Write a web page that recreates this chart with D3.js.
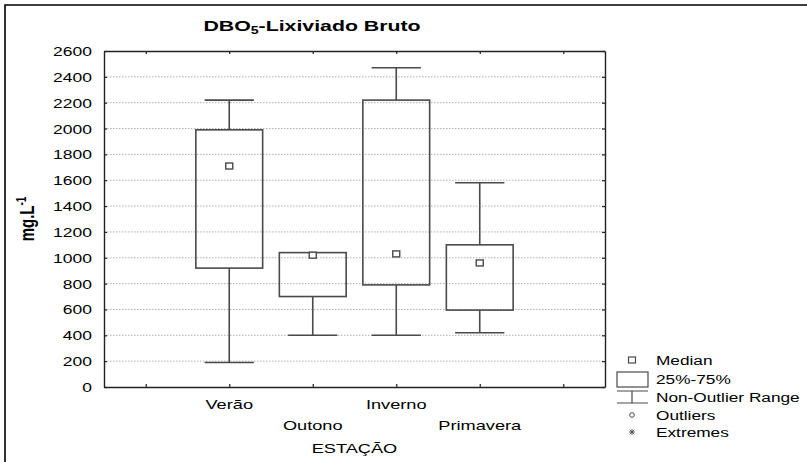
<!DOCTYPE html>
<html>
<head>
<meta charset="utf-8">
<script src="https://cdn.jsdelivr.net/npm/d3@7"></script>
<style>
  body { margin: 0; background: #fff; }
  text { font-family: "Liberation Sans", Arial, sans-serif; fill: #000; }
</style>
</head>
<body>
<svg id="chart"></svg>
<script>
// values
var categories = ["Verão", "Outono", "Inverno", "Primavera"];
var whiskerLow = [190, 400, 400, 420];
var q1 = [920, 700, 790, 595];
var median = [1710, 1020, 1030, 960];
var q3 = [1990, 1040, 2220, 1100];
var whiskerHigh = [2220, 1040, 2470, 1580];
var yTicks = [0, 200, 400, 600, 800, 1000, 1200, 1400, 1600, 1800, 2000, 2200, 2400, 2600];
var legendItems = ["Median", "25%-75%", "Non-Outlier Range", "Outliers", "Extremes"];

var W = 807, H = 462;
var plot = { left: 104, right: 605, top: 51, bottom: 387 };
var sx = 1.4; // the original output is stretched sideways
var lineCol = "#4a4a4a";

var svg = d3.select("#chart").attr("width", W).attr("height", H);

// frame of the cropped picture
svg.append("path")
  .attr("d", `M5,${H} L5,5 L${W},5`)
  .attr("fill", "none").attr("stroke", "#000").attr("stroke-width", 1.6);

// scales: empty slot on each side, like the original
var slots = ["_l"].concat(categories, ["_r"]);
var x = d3.scalePoint().domain(slots).range([plot.left, plot.right]).padding(0.5);
var y = d3.scaleLinear().domain([0, 2600]).range([plot.bottom, plot.top]);

// dotted grid
svg.append("g").selectAll("line")
  .data(yTicks.filter(d => d > 0 && d < 2600))
  .enter().append("line")
  .attr("x1", plot.left).attr("x2", plot.right)
  .attr("y1", d => y(d)).attr("y2", d => y(d))
  .attr("stroke", "#b0b0b0").attr("stroke-width", 1)
  .attr("stroke-dasharray", "1.5,1.5");

// axes with inward ticks
var axL = svg.append("g").attr("transform", `translate(${plot.left},0)`)
  .call(d3.axisLeft(y).tickValues(yTicks).tickFormat(d3.format("d")).tickSizeInner(-3).tickSizeOuter(0));
var axR = svg.append("g").attr("transform", `translate(${plot.right},0)`)
  .call(d3.axisRight(y).tickValues(yTicks).tickSizeInner(-3).tickSizeOuter(0).tickFormat(""));
var axB = svg.append("g").attr("transform", `translate(0,${plot.bottom})`)
  .call(d3.axisBottom(x).tickSizeInner(-3).tickSizeOuter(0).tickFormat(""));
var axT = svg.append("g").attr("transform", `translate(0,${plot.top})`)
  .call(d3.axisTop(x).tickSizeInner(-3).tickSizeOuter(0).tickFormat(""));
[axL, axR, axB, axT].forEach(a => {
  a.selectAll(".domain").attr("stroke", "#222").attr("stroke-width", 1.4);
  a.selectAll(".tick line").attr("stroke", "#222").attr("stroke-width", 1.2);
});
axL.selectAll(".tick text")
  .attr("x", 0).attr("dy", "0.36em")
  .attr("transform", `translate(-12,0) scale(${sx},1)`)
  .style("font-family", "Liberation Sans, Arial, sans-serif")
  .style("font-size", "12.5px").attr("fill", "#000");

// boxes
var step = x.step();
var boxW = step * 0.8, capW = step * 0.59;
var g = svg.append("g");
categories.forEach(function (c, i) {
  var cx = x(c);
  g.append("line")
    .attr("x1", cx).attr("x2", cx)
    .attr("y1", y(whiskerLow[i])).attr("y2", y(q1[i]))
    .attr("stroke", lineCol).attr("stroke-width", 1.6);
  g.append("line")
    .attr("x1", cx).attr("x2", cx)
    .attr("y1", y(q3[i])).attr("y2", y(whiskerHigh[i]))
    .attr("stroke", lineCol).attr("stroke-width", 1.6);
  [whiskerLow[i], whiskerHigh[i]].forEach(function (v) {
    if (v == q3[i] || v == q1[i]) return;
    g.append("line")
      .attr("x1", cx - capW / 2).attr("x2", cx + capW / 2)
      .attr("y1", y(v)).attr("y2", y(v))
      .attr("stroke", lineCol).attr("stroke-width", 1.6);
  });
  g.append("rect")
    .attr("x", cx - boxW / 2).attr("width", boxW)
    .attr("y", y(q3[i])).attr("height", y(q1[i]) - y(q3[i]))
    .attr("fill", "none").attr("stroke", lineCol).attr("stroke-width", 1.6);
  g.append("rect")
    .attr("x", cx - 3.5).attr("width", 7)
    .attr("y", y(median[i]) - 3).attr("height", 6)
    .attr("fill", "#fff").attr("stroke", lineCol).attr("stroke-width", 1.4);
});

// category labels, staggered in two rows
svg.append("g").selectAll("text")
  .data(categories)
  .enter().append("text")
  .attr("text-anchor", "middle")
  .attr("transform", (d, i) => `translate(${x(d)},${i % 2 == 0 ? 409 : 430}) scale(${sx},1)`)
  .style("font-size", "13px")
  .text(d => d);

svg.append("text")
  .attr("text-anchor", "middle")
  .attr("transform", `translate(${(plot.left + plot.right) / 2},453) scale(${sx},1)`)
  .style("font-size", "13px")
  .text("ESTAÇÃO");

// title
var title = svg.append("text")
  .attr("text-anchor", "middle")
  .attr("transform", `translate(312,31) scale(1.42,1)`)
  .style("font-size", "15px").style("font-weight", "bold");
title.append("tspan").text("DBO");
title.append("tspan").attr("baseline-shift", "-3").style("font-size", "10px").text("5");
title.append("tspan").text("-Lixiviado Bruto");

// y label
var yl = svg.append("text")
  .attr("text-anchor", "middle")
  .attr("transform", `translate(34,${(plot.top + plot.bottom) / 2}) rotate(-90) scale(1,1.4)`)
  .style("font-size", "15px").style("font-weight", "bold");
yl.append("tspan").text("mg.L");
yl.append("tspan").attr("baseline-shift", "super").style("font-size", "10px").text("-1");

// legend
var lx = 632, ly = [360, 379, 397, 415, 432];
var lg = svg.append("g");
lg.append("rect").attr("x", lx - 3.5).attr("y", ly[0] - 3).attr("width", 7).attr("height", 6)
  .attr("fill", "#fff").attr("stroke", lineCol).attr("stroke-width", 1.2);
lg.append("rect").attr("x", 617).attr("y", 372).attr("width", 31).attr("height", 15)
  .attr("fill", "#fff").attr("stroke", lineCol).attr("stroke-width", 1.2);
lg.append("path")
  .attr("d", `M617,391 H648 M${lx},391 V403 M617,403 H648`)
  .attr("fill", "none").attr("stroke", lineCol).attr("stroke-width", 1.2);
lg.append("circle").attr("cx", lx).attr("cy", ly[3]).attr("r", 2.3)
  .attr("fill", "none").attr("stroke", lineCol).attr("stroke-width", 1);
lg.append("path")
  .attr("d", `M${lx - 3},${ly[4]} H${lx + 3} M${lx},${ly[4] - 3} V${ly[4] + 3} M${lx - 2.2},${ly[4] - 2.2} L${lx + 2.2},${ly[4] + 2.2} M${lx - 2.2},${ly[4] + 2.2} L${lx + 2.2},${ly[4] - 2.2}`)
  .attr("stroke", lineCol).attr("stroke-width", 0.9);
lg.selectAll("text.leg")
  .data(legendItems)
  .enter().append("text")
  .attr("class", "leg")
  .attr("dy", "0.36em")
  .attr("transform", (d, i) => `translate(656,${ly[i]}) scale(1.38,1)`)
  .style("font-size", "12.5px")
  .text(d => d);
</script>
</body>
</html>
